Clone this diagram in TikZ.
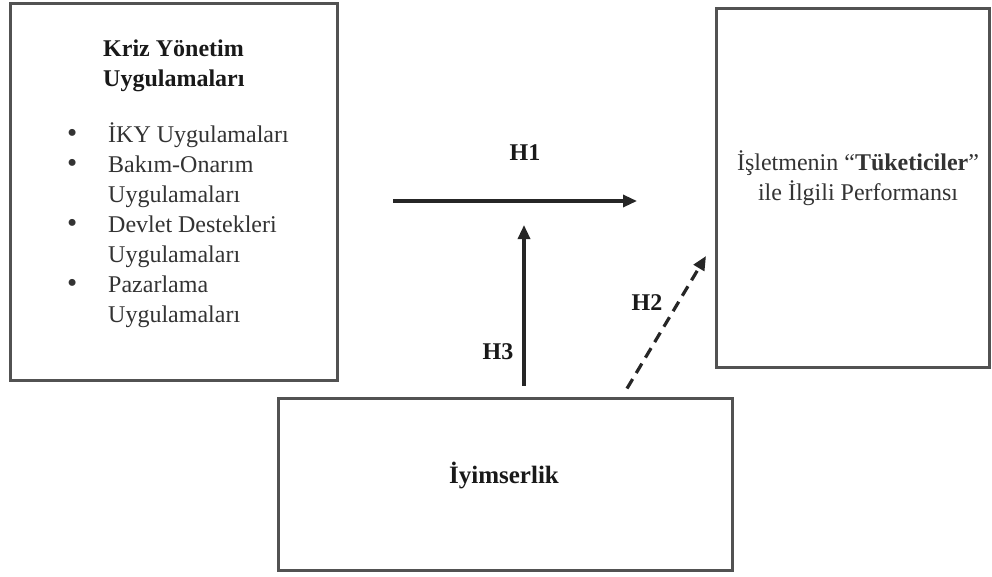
\documentclass[tikz,border=0pt]{standalone}
\usepackage{fontspec}
\setmainfont{Liberation Serif}
\usetikzlibrary{arrows.meta}
\newcommand{\bigbul}{\smash{\fontsize{29}{24}\selectfont\textbullet}}
\begin{document}
\begin{tikzpicture}[x=1pt,y=-1pt,
 box/.style={draw=black!68,line width=3pt,inner sep=0pt},
 txt/.style={font=\fontsize{24}{30}\selectfont,text=black!80,inner sep=0pt},
 btxt/.style={font=\fontsize{24}{30}\selectfont\bfseries,text=black!90,inner sep=0pt},
 arr/.style={line width=3.2pt,draw=black!85,-{Triangle[length=14pt,width=12pt]}},
]
\useasboundingbox (0,0) rectangle (992,576);
\fill[white] (0,0) rectangle (992,576);
% boxes
\node[box,minimum width=327pt,minimum height=377pt] (left) at (173.5,191.5) {};
\node[box,minimum width=273pt,minimum height=359pt] (right) at (852.5,187.5) {};
\node[box,minimum width=454pt,minimum height=172pt] (bottom) at (505,484) {};
% left box text
\node[btxt,align=left,anchor=west] (title) at (103,66) {Kriz Yönetim\\Uygulamaları};
\node[txt,anchor=west] (list) at (67,226) {%
\begin{tabular}{@{}p{41pt}@{}l@{}}
\bigbul & İKY Uygulamaları\\
\bigbul & Bakım-Onarım\\
 & Uygulamaları\\
\bigbul & Devlet Destekleri\\
 & Uygulamaları\\
\bigbul & Pazarlama\\
 & Uygulamaları
\end{tabular}};
% right box text
\node[txt,align=center] (perf) at (858,178) {İşletmenin “\textbf{Tüketiciler}”\\ile İlgili Performansı};
% bottom text
\node[font=\fontsize{25}{30}\selectfont\bfseries,text=black!90,inner sep=0pt] (iyim) at (504,475) {İyimserlik};
% arrows
\coordinate (h1s) at (393,201);
\coordinate (h1e) at (637,201);
\draw[arr] (h1s) -- (h1e);
\coordinate (h3s) at ([xshift=19pt,yshift=11pt]bottom.north);
\coordinate (h3e) at (524,225);
\draw[arr] (h3s) -- (h3e);
\coordinate (h2s) at ([xshift=122pt,yshift=8pt]bottom.north);
\coordinate (h2e) at (706,256);
\draw[arr,dash pattern=on 11pt off 7pt] (h2s) -- (h2e);
% labels
\node[btxt] (lh1) at (525,153) {H1};
\node[btxt] (lh3) at (498,352) {H3};
\node[btxt] (lh2) at (647,303) {H2};
\end{tikzpicture}
\end{document}
